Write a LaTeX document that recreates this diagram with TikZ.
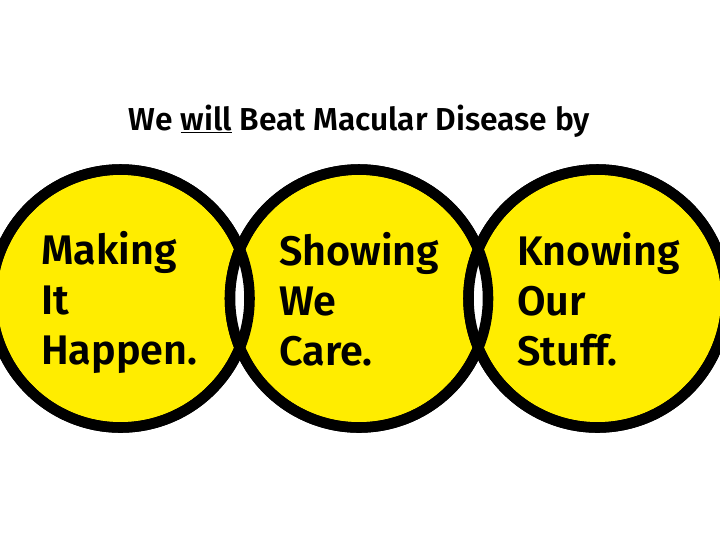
\documentclass[tikz,border=0pt]{standalone}
\usepackage{fontspec}
\setmainfont{Fira Sans}[UprightFont=*-SemiBold]
\definecolor{ringyellow}{HTML}{FFED00}
\tikzset{
  x=0.75pt,y=-0.75pt,
  ring/.style={circle,draw=black,fill=ringyellow,line width=7.9pt,minimum size=193.5pt,inner sep=0pt},
  outline/.style={draw=black,line width=7.9pt},
  ringtext/.style={anchor=west,align=left,font=\fontsize{31pt}{37.5pt}\selectfont,inner sep=0pt},
  head/.style={font=\fontsize{23.8pt}{28pt}\selectfont,inner sep=0pt}
}
\begin{document}
\begin{tikzpicture}
\useasboundingbox (0,0) rectangle (720,540);
\fill[white] (0,0) rectangle (720,540);
\node[ring] (c1) at (120.5,298.5) {};
\node[ring] (c2) at (359,298.5) {};
\node[ring] (c3) at (597.5,298.5) {};
\begin{scope}
\clip (c1.center) circle (129);
\fill[white] (c2.center) circle (129);
\end{scope}
\begin{scope}
\clip (c2.center) circle (129);
\fill[white] (c3.center) circle (129);
\end{scope}
\draw[outline] (c1.center) circle (129);
\draw[outline] (c2.center) circle (129);
\draw[outline] (c3.center) circle (129);
\node[head] (title) at (359.5,121) {We \underline{will} Beat Macular Disease by};
\node[ringtext] (t1) at (41,302) {Making\\It\\Happen.};
\node[ringtext] (t2) at (279,299) {Showing\\We\\Care.};
\node[ringtext] (t3) at (517,299.5) {Knowing\\Our\\Stuff.};
\end{tikzpicture}
\end{document}
